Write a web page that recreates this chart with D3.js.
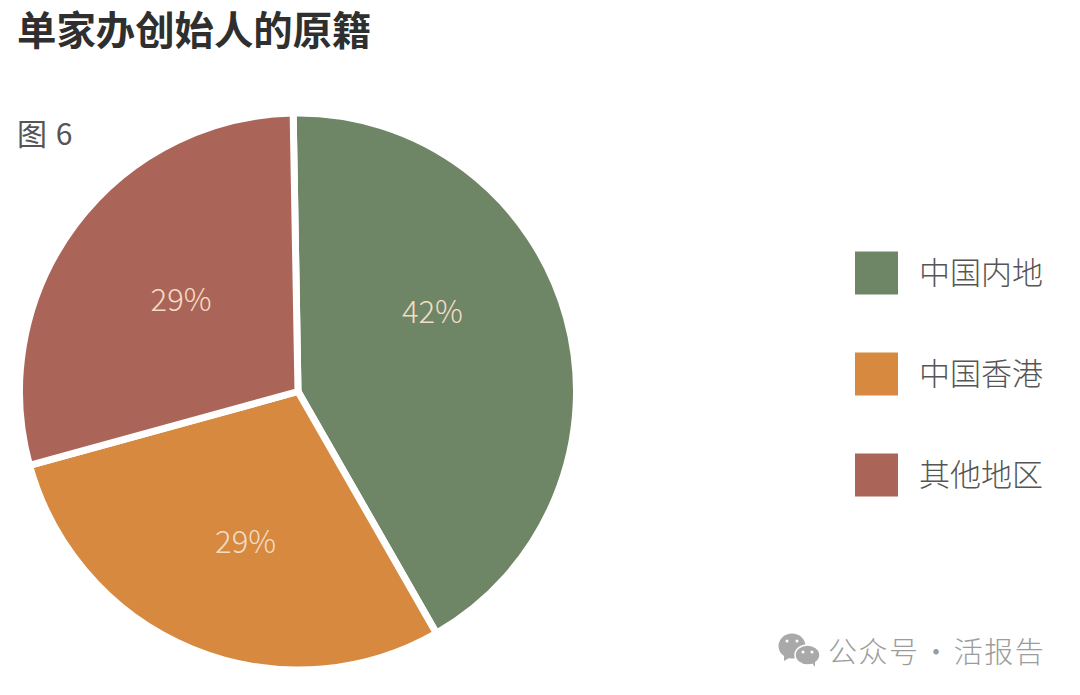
<!DOCTYPE html>
<html>
<head>
<meta charset="utf-8">
<script src="https://cdn.jsdelivr.net/npm/d3@7"></script>
<style>
  html, body { margin: 0; padding: 0; background: #fff; }
  text { font-family: "Noto Sans CJK SC", "Noto Sans", sans-serif; }
</style>
</head>
<body>
<svg id="chart" width="1080" height="695"></svg>
<script>
let categories = ['中国内地', '中国香港', '其他地区'];
let values = [42, 29, 29];
let colors = ['#6e8566', '#d6893f', '#ab6558'];

let width = 1080;
let height = 695;
let svg_x = 298;
let svg_y = 391.5;
let radius = 278.5;
// the source picture is turned about one degree
let start_angle = -1 * Math.PI / 180;
// labels do not sit on the centroids in the source
let label_shift = [[-16, -38], [7, 6], [8, 2]];

let svg = d3.select('#chart');

// Title and figure number
svg.append('text')
    .text('单家办创始人的原籍')
    .attr('x', 17)
    .attr('y', 45)
    .attr('font-size', '39.4px')
    .attr('font-weight', 700)
    .attr('fill', '#2f2f2f');

svg.append('text')
    .text('图 6')
    .attr('x', 17)
    .attr('y', 145)
    .attr('font-size', '30px')
    .attr('word-spacing', '2px')
    .attr('fill', '#555555');

// Create pie Layout Generator
let pie = d3.pie()
    .value(d => d.value)
    .sort(null)
    .startAngle(start_angle)
    .endAngle(start_angle + 2 * Math.PI);
let pieData = pie(values.map((v, i) => ({ value: v, name: categories[i], color: colors[i], shift: label_shift[i] })));

let arc = d3.arc().outerRadius(radius).innerRadius(0);
let labelArc = d3.arc().outerRadius(156).innerRadius(156);

let groups = svg.append('g')
    .attr('transform', 'translate(' + svg_x + ',' + svg_y + ')')
    .selectAll('.slice')
    .data(pieData)
    .join('g')
    .attr('class', 'slice');

groups.append('path')
    .attr('d', arc)
    .style('fill', d => d.data.color)
    .attr('stroke', '#ffffff')
    .attr('stroke-width', 7)
    .attr('stroke-linejoin', 'round');

groups.append('text')
    .text(d => d.data.value + '%')
    .attr('transform', d => {
        let c = labelArc.centroid(d);
        return 'translate(' + (c[0] + d.data.shift[0]) + ',' + (c[1] + d.data.shift[1]) + ')';
    })
    .attr('text-anchor', 'middle')
    .attr('dy', '0.36em')
    .attr('font-size', '31px')
    .attr('font-family', '"Open Sans", sans-serif')
    .attr('font-weight', 300)
    .attr('fill', '#f3dcc4');

// Legend
let legendY = d3.scalePoint().domain(categories).range([273, 475]);

let legend = svg.append('g')
    .selectAll('.legend_item')
    .data(pieData)
    .join('g')
    .attr('class', 'legend_item')
    .attr('transform', d => 'translate(855,' + legendY(d.data.name) + ')');

legend.append('rect')
    .attr('x', 0)
    .attr('y', -21.5)
    .attr('width', 43)
    .attr('height', 43)
    .attr('fill', d => d.data.color);

legend.append('text')
    .text(d => d.data.name)
    .attr('x', 64)
    .attr('dy', '0.36em')
    .attr('font-size', '31px')
    .attr('font-weight', 300)
    .attr('fill', '#555555');

// Watermark
let mark = svg.append('g').attr('fill', '#a9a9a9');
mark.append('ellipse').attr('cx', 792).attr('cy', 646).attr('rx', 13.5).attr('ry', 12.5);
mark.append('path').attr('d', 'M784 656 L784 661 L791 657 Z');
mark.append('ellipse').attr('cx', 807.5).attr('cy', 655).attr('rx', 12.5).attr('ry', 10)
    .attr('stroke', '#ffffff').attr('stroke-width', 1.5);
mark.append('path').attr('d', 'M812 663 L815 667 L815 661 Z');
[[787, 641], [797, 641], [803, 652], [812, 652]].forEach(p => {
    svg.append('circle').attr('cx', p[0]).attr('cy', p[1]).attr('r', 1.5).attr('fill', '#ffffff');
});

svg.append('text')
    .text('公众号 · 活报告')
    .attr('x', 828)
    .attr('y', 663)
    .attr('font-size', '29px')
    .attr('font-weight', 300)
    .attr('letter-spacing', '1.5px')
    .attr('word-spacing', '-6px')
    .attr('fill', '#9c9c9c');
</script>
</body>
</html>
